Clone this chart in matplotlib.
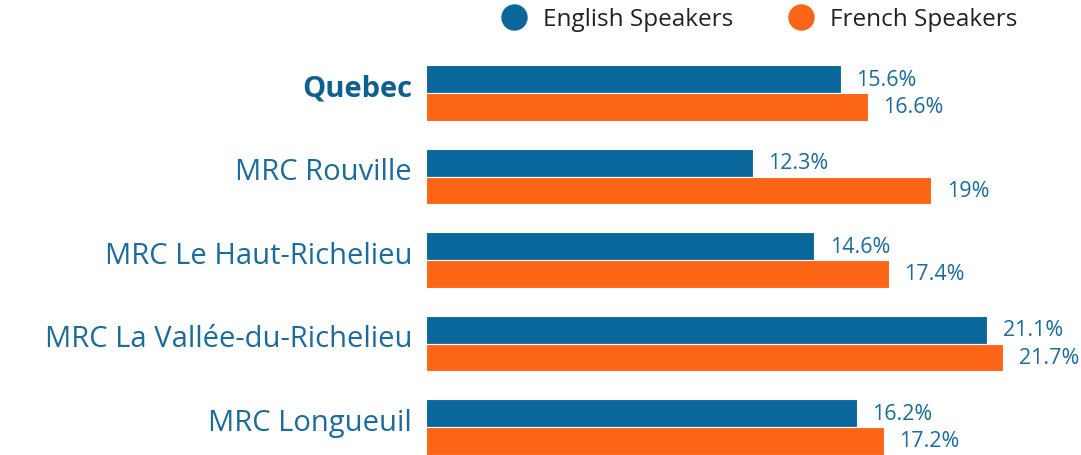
import matplotlib.pyplot as plt
import matplotlib.transforms as mtransforms
from matplotlib.lines import Line2D
import numpy as np

regions = ['Quebec', 'MRC Rouville', 'MRC Le Haut-Richelieu',
           'MRC La Vallée-du-Richelieu', 'MRC Longueuil']
english = [15.6, 12.3, 14.6, 21.1, 16.2]
french = [16.6, 19.0, 17.4, 21.7, 17.2]
series_names = ['English Speakers', 'French Speakers']

BLUE = '#0a679b'
ORANGE = '#fc6516'
TEXT = '#1b6b9b'

plt.rcParams['font.family'] = ['Open Sans', 'DejaVu Sans']

fig = plt.figure(figsize=(10.81, 4.56), dpi=100)
ax = fig.add_axes([426 / 1081, 0, 655 / 1081, 1])

y = np.arange(len(regions))
h = 0.33
bars_en = ax.barh(y - h / 2, english, height=h, color=BLUE, edgecolor='white', linewidth=0.8)
bars_fr = ax.barh(y + h / 2, french, height=h, color=ORANGE, edgecolor='white', linewidth=0.8)

def fmt(v):
    return '{:g}%'.format(v)

for bars, vals in [(bars_en, english), (bars_fr, french)]:
    for b, v in zip(bars, vals):
        ax.annotate(fmt(v), (b.get_width(), b.get_y() + b.get_height() / 2),
                    xytext=(11, 0), textcoords='offset points',
                    ha='left', va='center', fontsize=15.5, color=TEXT)

ax.set_xlim(0, 24.62)
ax.set_ylim(4.335, -1.126)
ax.set_yticks(y)
ax.set_yticklabels(regions, fontsize=21, color=TEXT)
ax.get_yticklabels()[0].set_fontweight('bold')
ax.get_yticklabels()[0].set_color('#0f5f8f')
ax.tick_params(axis='y', length=0, pad=10)
# nudge category labels up a bit
shift = mtransforms.ScaledTranslation(0, 6 / 72, fig.dpi_scale_trans)
for lbl in ax.get_yticklabels():
    lbl.set_transform(lbl.get_transform() + shift)
ax.set_xticks([])
for s in ax.spines.values():
    s.set_visible(False)

handles = [Line2D([], [], ls='', marker='o', ms=18, color=c) for c in (BLUE, ORANGE)]
fig.legend(handles, series_names, loc='center', bbox_to_anchor=(0.697, 0.956),
           ncol=2, frameon=False, fontsize=17.5, handletextpad=0.2,
           columnspacing=1.8, labelcolor='#222222')

fig.savefig('out.png', dpi=100)
